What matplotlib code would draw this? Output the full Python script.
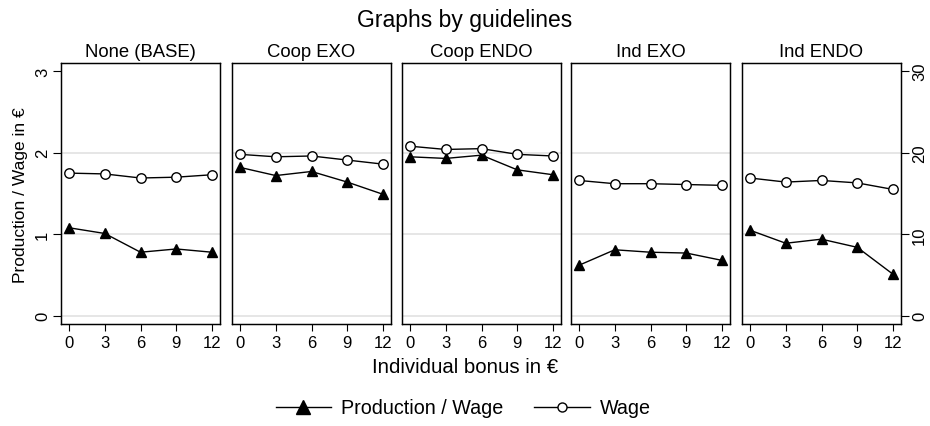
import matplotlib
matplotlib.use("Agg")
import matplotlib.pyplot as plt
from matplotlib.lines import Line2D

plt.rcParams['font.family'] = ['Liberation Sans', 'DejaVu Sans']

# data
bonus = [0, 3, 6, 9, 12]
guidelines = ["None (BASE)", "Coop EXO", "Coop ENDO", "Ind EXO", "Ind ENDO"]
prod_wage = [
    [1.08, 1.01, 0.78, 0.82, 0.78],
    [1.82, 1.72, 1.77, 1.64, 1.49],
    [1.95, 1.93, 1.97, 1.79, 1.73],
    [0.62, 0.81, 0.78, 0.77, 0.68],
    [1.05, 0.89, 0.94, 0.84, 0.51],
]
wage = [
    [17.5, 17.4, 16.9, 17.0, 17.3],
    [19.8, 19.5, 19.6, 19.1, 18.6],
    [20.8, 20.4, 20.5, 19.8, 19.6],
    [16.6, 16.2, 16.2, 16.1, 16.0],
    [16.9, 16.4, 16.6, 16.3, 15.5],
]
left_ticks = [0, 1, 2, 3]
right_ticks = [0, 10, 20, 30]
grid_vals = [0, 1, 2]

W, H = 930, 427
fig = plt.figure(figsize=(W / 100, H / 100), dpi=100, facecolor='white')

# panel geometry in pixels
lefts = [61, 232, 402, 571, 742]
pw = 159
top, bottom = 64, 325

tri = dict(marker='^', markersize=7.8, markerfacecolor='black',
           markeredgecolor='black', color='black', lw=1)
circ = dict(marker='o', markersize=6.8, markerfacecolor='white',
            markeredgecolor='black', markeredgewidth=1, color='black', lw=1)

for i, name in enumerate(guidelines):
    ax = fig.add_axes([lefts[i] / W, 1 - bottom / H, pw / W, (bottom - top) / H])
    ax.set_xlim(-0.67, 12.67)
    ax.set_ylim(-0.1, 3.1)
    for g in grid_vals:
        ax.axhline(g, color='#e2e2e2', lw=1.2, zorder=0)
    ax.plot(bonus, prod_wage[i], zorder=3, clip_on=False, **tri)
    ax2 = ax.twinx()
    ax2.set_ylim(-1, 31)
    ax2.plot(bonus, wage[i], zorder=3, clip_on=False, **circ)

    ax.set_xticks(bonus)
    ax.tick_params(axis='x', direction='out', length=5, width=0.8,
                   labelsize=12, pad=3)
    ax.set_title(name, fontsize=13.3, pad=5)

    if i == 0:
        ax.set_yticks(left_ticks)
        ax.set_yticklabels([str(t) for t in left_ticks], rotation=90, va='center')
        ax.tick_params(axis='y', direction='out', length=6, width=0.8,
                       labelsize=12, pad=2)
    else:
        ax.set_yticks([])
    if i == len(guidelines) - 1:
        ax2.set_yticks(right_ticks)
        ax2.set_yticklabels([str(t) for t in right_ticks], rotation=90, va='center')
        ax2.tick_params(axis='y', direction='out', length=6, width=0.8,
                        labelsize=12, pad=2)
    else:
        ax2.set_yticks([])

    for a in (ax, ax2):
        for s in a.spines.values():
            s.set_color('black')
            s.set_linewidth(0.9)

fig.text(465 / W, 1 - 20 / H, "Graphs by guidelines", ha='center', va='center',
         fontsize=16.5)
fig.text(465 / W, 1 - 368 / H, "Individual bonus in €", ha='center', va='center',
         fontsize=14.7)
fig.text(20 / W, 1 - 195 / H, "Production / Wage in €", ha='center', va='center',
         rotation=90, fontsize=12.5)

# legend markers: bigger triangle, smaller circle, like the original
leg_tri = dict(tri, markersize=9.5)
leg_circ = dict(circ, markersize=6.5)
handles = [Line2D([], [], **leg_tri), Line2D([], [], **leg_circ)]
fig.legend(handles, ["Production / Wage", "Wage"], loc='center',
           bbox_to_anchor=(463 / W, 1 - 409 / H), ncol=2, frameon=False,
           fontsize=14.2, handlelength=2.8, handletextpad=0.5,
           columnspacing=1.6)

fig.savefig("out.png", dpi=100, facecolor='white')
